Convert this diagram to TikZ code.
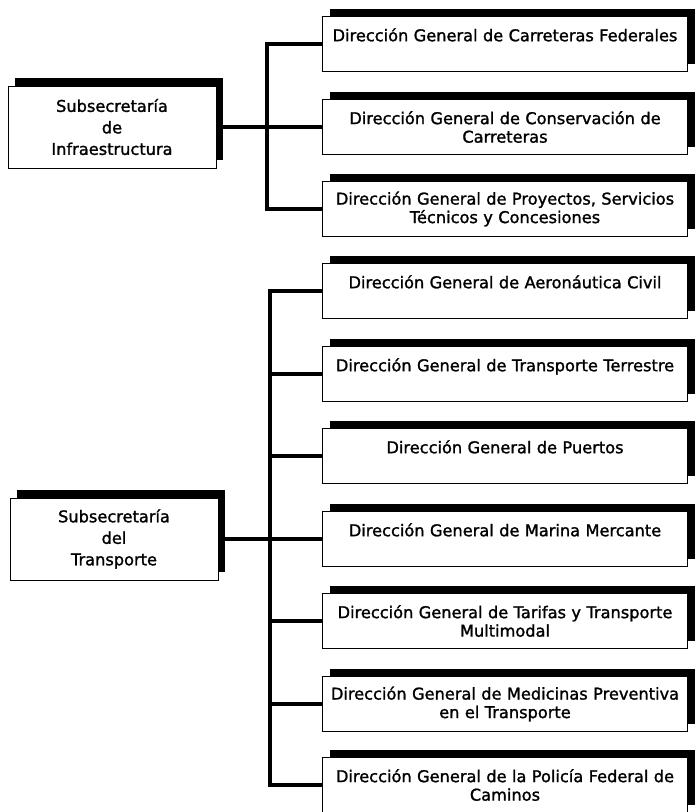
\documentclass[tikz,border=0pt]{standalone}
\usepackage{fontspec}
\newfontfamily\orgfont[FakeBold=1.4]{DejaVu Sans}
\usetikzlibrary{shadows}
\tikzset{
  boxshade/.style={drop shadow={shadow xshift=7pt,shadow yshift=8pt,fill=black,opacity=1}},
  dirbox/.style={draw,line width=0.8pt,fill=white,boxshade,minimum width=365pt,minimum height=55pt,
    inner sep=0pt,text width=360pt,align=center,font=\orgfont\fontsize{16.2}{18.5}\selectfont},
  subbox/.style={draw,line width=0.8pt,fill=white,boxshade,minimum width=208pt,minimum height=82pt,
    inner sep=0pt,text width=200pt,align=center,font=\orgfont\fontsize{16.2}{21.5}\selectfont},
  conn/.style={line width=3.2pt}
}
\begin{document}
\begin{tikzpicture}[x=1pt,y=-1pt]
\useasboundingbox (0,0) rectangle (697,812);
\coordinate (jI) at (267,127);
\coordinate (jT) at (270,539);
%
\node [subbox] (infra) at (112,127) {Subsecretaría\\de\\Infraestructura};
\node [subbox] (transp) at (114,539) {Subsecretaría\\del\\Transporte};
%
\node [dirbox] (b1) at (505,44) {Dirección General de Carreteras Federales\\~};
\node [dirbox] (b2) at (505,127) {Dirección General de Conservación de\\Carreteras};
\node [dirbox] (b3) at (505,209) {Dirección General de Proyectos, Servicios\\Técnicos y Concesiones};
\node [dirbox] (b4) at (505,291) {Dirección General de Aeronáutica Civil\\~};
\node [dirbox] (b5) at (505,374) {Dirección General de Transporte Terrestre\\~};
\node [dirbox] (b6) at (505,456) {Dirección General de Puertos\\~};
\node [dirbox] (b7) at (505,539) {Dirección General de Marina Mercante\\~};
\node [dirbox] (b8) at (505,621) {Dirección General de Tarifas y Transporte\\Multimodal};
\node [dirbox] (b9) at (505,704) {Dirección General de Medicinas Preventiva\\en el Transporte};
\node [dirbox] (b10) at (505,785) {Dirección General de la Policía Federal de\\Caminos};
%
\draw [conn] (b1.west) -| (jI) |- (b3.west) (infra.east) -- (b2.west);
\draw [conn] (b4.west) -| (jT) |- (b10.west) (transp.east) -- (b7.west)
  foreach \n in {5,6,8,9} {(b\n.west) -- (b\n.west -| jT)};
\end{tikzpicture}
\end{document}
